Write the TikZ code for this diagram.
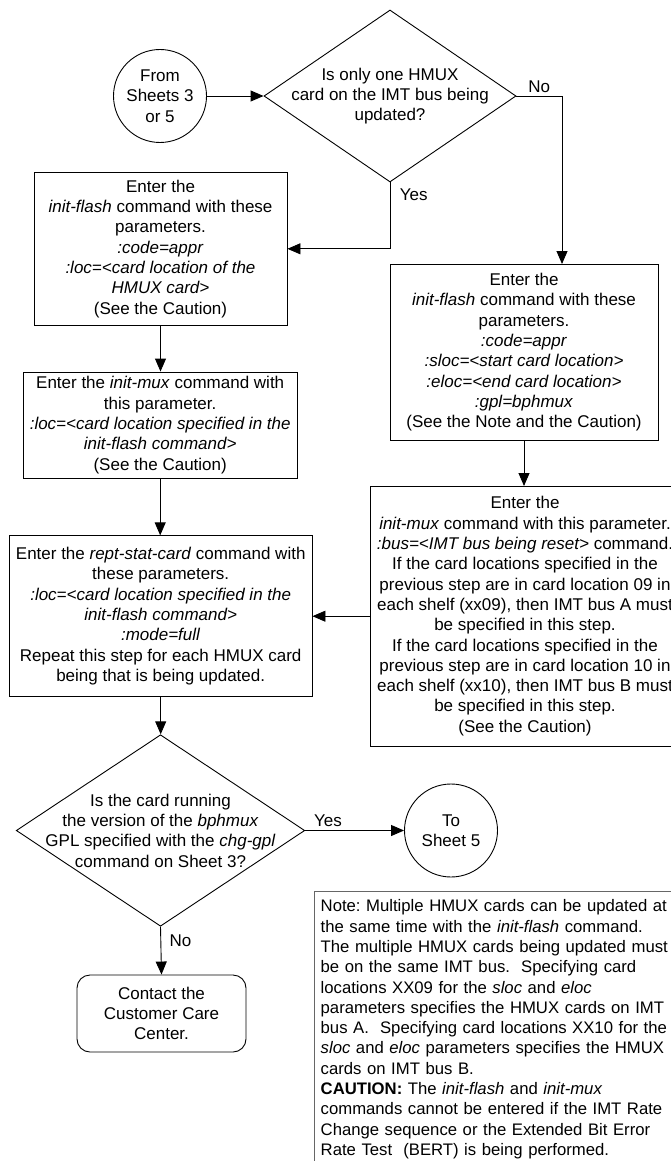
\documentclass[tikz,border=0pt]{standalone}
\usepackage{fontspec}
\setmainfont{Liberation Sans}
\usetikzlibrary{shapes.geometric,arrows.meta}
\frenchspacing

\begin{document}
\begin{tikzpicture}[x=1pt,y=-1pt,
  every node/.style={font=\fontsize{17}{20.3}\selectfont},
  proc/.style={draw, line width=0.9pt, align=center, inner sep=2pt},
  decision/.style={draw, diamond, line width=0.9pt, inner sep=0pt},
  conn/.style={draw, circle, line width=0.9pt, align=center, inner sep=0pt, minimum size=93pt},
  term/.style={draw, rounded corners=13pt, line width=0.9pt, align=center, minimum width=169pt, minimum height=77pt},
  note/.style={draw=black!60, line width=1.4pt, align=left, text width=356pt, inner xsep=6pt, inner ysep=8pt,
    anchor=north west, font=\fontsize{16.7}{20.3}\selectfont},
  flow/.style={line width=0.9pt, -{Triangle[length=13pt,width=11pt]}}]
\useasboundingbox (0,0) rectangle (670,1161);

\node [conn] (from) at (160,96) {From\\Sheets 3\\or 5};
\node [decision, minimum width=252pt, minimum height=172pt,
  label={[align=center]center:{Is only one HMUX\\card on the IMT bus being\\updated?}}] (onehmux) at (390,96) {};

\node [proc, minimum width=253pt, minimum height=153.5pt] (flashone) at (160.5,248.8)
  {Enter the\\\textit{init-flash} command with these\\parameters.\\\textit{:code=appr}\\
   \textit{:loc=<card location of the}\\\textit{HMUX card>}\\(See the Caution)}; % single card
\node [proc, minimum width=268pt, minimum height=175.5pt] (flashall) at (524,352.2)
  {Enter the\\\textit{init-flash} command with these\\parameters.\\\textit{:code=appr}\\
   \textit{:sloc=<start card location>}\\\textit{:eloc=<end card location>}\\
   \textit{:gpl=bphmux}\\(See the Note and the Caution)}; % range of cards
\node [proc, minimum width=273.5pt, minimum height=106pt] (muxone) at (160.2,425)
  {Enter the \textit{init-mux} command with\\this parameter.\\
   \textit{:loc=<card location specified in the}\\\textit{init-flash command>}\\(See the Caution)};
\node [proc, minimum width=310pt, minimum height=259.5pt] (muxall) at (525,616.2)
  {Enter the\\\textit{init-mux} command with this parameter.\\
   \textit{:bus=<IMT bus being reset>} command.\\
   If the card locations specified in the\\previous step are in card location 09 in\\
   each shelf (xx09), then IMT bus A must\\be specified in this step.\\
   If the card locations specified in the\\previous step are in card location 10 in\\
   each shelf (xx10), then IMT bus B must\\be specified in this step.\\(See the Caution)};
\node [proc, minimum width=302.6pt, minimum height=160.4pt] (stat) at (160.7,616)
  {Enter the \textit{rept-stat-card} command with\\these parameters.\\
   \textit{:loc=<card location specified in the}\\\textit{init-flash command>}\\
   \textit{:mode=full}\\Repeat this step for each HMUX card\\being that is being updated.};

\node [decision, minimum width=288.5pt, minimum height=191.5pt,
  label={[align=center]center:{Is the card running\\the version of the \textit{bphmux}\\
  GPL specified with the \textit{chg-gpl}\\command on Sheet 3?}}] (running) at (160.5,830.5) {};
\node [conn] (tosheet) at (451,830.5) {To\\Sheet 5};
\node [term] (contact) at (161.5,1013.5) {Contact the\\Customer Care\\Center.};

\node [note] (note) at (314,891)
  {Note: Multiple HMUX cards can be updated at\\
   the same time with the \textit{init-flash} command.\\
   The multiple HMUX cards being updated must\\
   be on the same IMT bus.\ \ Specifying card\\
   locations XX09 for the \textit{sloc} and \textit{eloc}\\
   parameters specifies the HMUX cards on IMT\\
   bus A.\ \ Specifying card locations XX10 for the\\
   \textit{sloc} and \textit{eloc} parameters specifies the HMUX\\
   cards on IMT bus B.\\
   \textbf{CAUTION:} The \textit{init-flash} and \textit{init-mux}\\
   commands cannot be entered if the IMT Rate\\
   Change sequence or the Extended Bit Error\\
   Rate Test\ \ (BERT) is being performed.};

\draw [flow] (from.east) -- (onehmux.west);
\draw [flow] (onehmux.east) -| ([xshift=38pt]flashall.north) node[pos=0.25, above] {No};
\draw [flow] (onehmux.south) |- (flashone.east) node[pos=0.09, right=6pt] {Yes};
\draw [flow] (flashone.south) -- (flashone.south |- muxone.north);
\draw [flow] (muxone.south) -- (muxone.south |- stat.north);
\draw [flow] (flashall.south) -- (flashall.south |- muxall.north);
\draw [flow] (muxall.west) -- (muxall.west -| stat.east);
\draw [flow] (stat.south) -- (stat.south |- running.north);
\draw [flow] (running.east) -- (tosheet.west) node[pos=0.23, above] {Yes};
\draw [flow] (running.south) -- (contact.north) node[pos=0.3, right=5pt] {No};

\end{tikzpicture}
\end{document}
